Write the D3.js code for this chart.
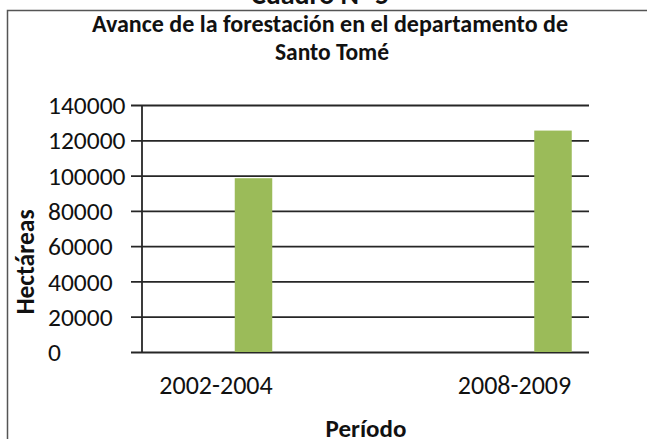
<!DOCTYPE html>
<html>
<head>
<meta charset="utf-8">
<script src="https://cdn.jsdelivr.net/npm/d3@7"></script>
<style>
  body { margin: 0; background: #fff; }
  svg { display: block; font-family: Carlito, Calibri, "Liberation Sans", sans-serif; }
</style>
</head>
<body>
<svg></svg>
<script>
// data
let periods = ['2002-2004', '2008-2009']
let hectares = [98500, 125500]
let yTicks = [0, 20000, 40000, 60000, 80000, 100000, 120000, 140000]

let width = 647
let height = 439
let font = 'Carlito, Calibri, "Liberation Sans", sans-serif'

let svg = d3.select('svg')
    .attr('width', width)
    .attr('height', height)

// frame around the chart (cut off at the right and bottom)
svg.append('rect')
    .attr('x', 7.5)
    .attr('y', 10.5)
    .attr('width', 700)
    .attr('height', 500)
    .attr('fill', 'none')
    .attr('stroke', '#555')
    .attr('stroke-width', 1.5)

// heading cut off at the top of the picture
svg.append('text')
    .attr('x', 320)
    .attr('y', 4)
    .attr('text-anchor', 'middle')
    .attr('font-weight', 'bold')
    .attr('font-size', 28)
    .attr('fill', '#111')
    .text('Cuadro N° 5')

// scales
let yScale = d3.scaleLinear()
    .domain([0, 140000])
    .range([352, 105])

let xScale = d3.scalePoint()
    .domain(periods)
    .range([253.5, 553])

let labelScale = d3.scalePoint()
    .domain(periods)
    .range([215.5, 514])

let barWidth = 37.5
let gridLeft = 131
let gridRight = 589

// y axis with gridlines
let yAxis = d3.axisLeft(yScale)
    .tickValues(yTicks)
    .tickFormat(d3.format('d'))
    .tickSize(-(gridRight - gridLeft))
    .tickPadding(0)

let gy = svg.append('g')
    .attr('id', 'y-axis')
    .attr('transform', 'translate(' + gridLeft + ',0)')
    .call(yAxis)

gy.select('.domain').remove()
gy.selectAll('.tick line')
    .attr('stroke', '#262626')
    .attr('stroke-width', 1.8)
gy.selectAll('.tick text')
    .attr('x', 48 - gridLeft)
    .attr('dy', '0.34em')
    .attr('text-anchor', 'start')
    .attr('font-size', 25.5)
    .attr('font-family', font)
    .attr('fill', '#111')

// vertical axis line
svg.append('line')
    .attr('x1', 142)
    .attr('x2', 142)
    .attr('y1', yScale(140000))
    .attr('y2', yScale(0))
    .attr('stroke', '#262626')
    .attr('stroke-width', 1.8)

// bars
svg.selectAll('rect.bar')
    .data(periods)
    .enter()
    .append('rect')
    .attr('class', 'bar')
    .attr('x', (d) => xScale(d) - barWidth / 2)
    .attr('width', barWidth)
    .attr('y', (d, i) => yScale(hectares[i]))
    .attr('height', (d, i) => yScale(0) - yScale(hectares[i]))
    .attr('fill', '#9bbb59')

// x axis labels
let xAxis = d3.axisBottom(labelScale)
    .tickSize(0)
    .tickPadding(0)

let gx = svg.append('g')
    .attr('id', 'x-axis')
    .attr('transform', 'translate(0,' + 394 + ')')
    .call(xAxis)

gx.select('.domain').remove()
gx.selectAll('.tick text')
    .attr('dy', 0)
    .attr('font-size', 26)
    .attr('font-family', font)
    .attr('fill', '#111')

// titles
let title = svg.append('text')
    .attr('text-anchor', 'middle')
    .attr('font-weight', 'bold')
    .attr('font-size', 23.5)
    .attr('fill', '#111')

title.append('tspan')
    .attr('x', 330)
    .attr('y', 32)
    .attr('textLength', 476)
    .attr('lengthAdjust', 'spacingAndGlyphs')
    .text('Avance de la forestación en el departamento de')

title.append('tspan')
    .attr('x', 332)
    .attr('y', 60)
    .text('Santo Tomé')

svg.append('text')
    .attr('transform', 'translate(33.5,262) rotate(-90)')
    .attr('text-anchor', 'middle')
    .attr('font-weight', 'bold')
    .attr('font-size', 25.5)
    .attr('fill', '#111')
    .text('Hectáreas')

svg.append('text')
    .attr('x', 366)
    .attr('y', 436.5)
    .attr('text-anchor', 'middle')
    .attr('font-weight', 'bold')
    .attr('font-size', 25)
    .attr('fill', '#111')
    .text('Período')
</script>
</body>
</html>
